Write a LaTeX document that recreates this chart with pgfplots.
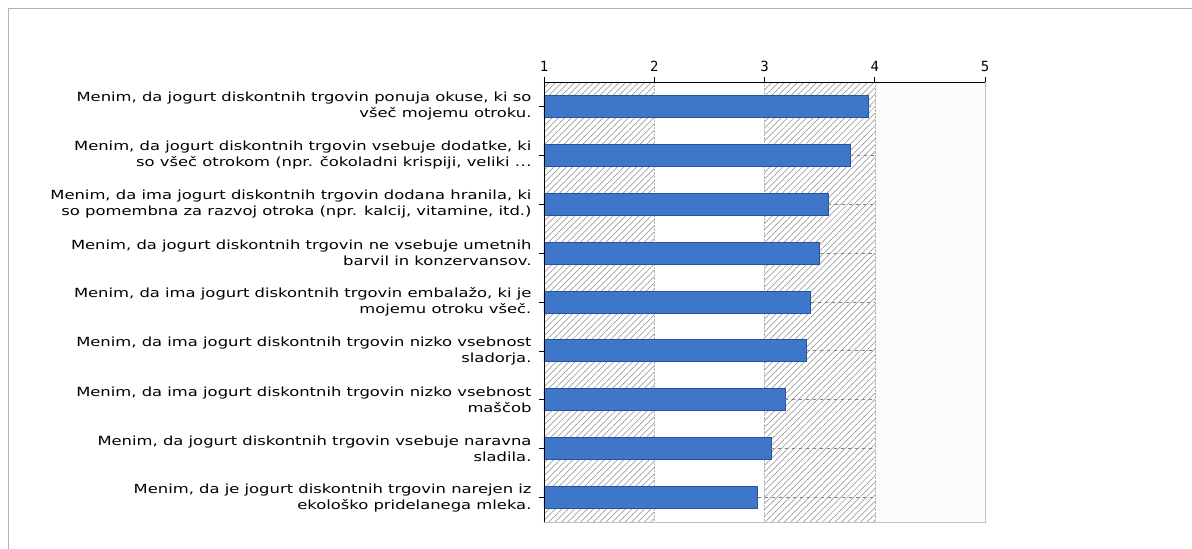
\documentclass[border=0pt]{standalone}
\usepackage{fontspec}
\setmainfont{DejaVu Sans}
\newfontfamily\labfont[FakeStretch=1.3]{DejaVu Sans}
\newfontfamily\tickfont{DejaVu Sans Mono}
\usepackage{pgfplots}
\pgfplotsset{compat=1.18}
\usetikzlibrary{patterns.meta}
\definecolor{barblue}{RGB}{62,118,202}
\definecolor{barline}{RGB}{40,82,155}
\pgfplotstableread{
y x e
8 3.94 0.06
7 3.78 0.22
6 3.58 0.42
5 3.50 0.50
4 3.42 0.58
3 3.38 0.62
2 3.19 0.81
1 3.06 0.94
0 2.94 1.06
}\datatable
\newcommand{\dotsx}{.\kern0.5pt.\kern0.5pt.}
\begin{document}
\begin{tikzpicture}
\useasboundingbox (0,0) rectangle (1192pt,549pt);
\draw[gray!60, line width=1pt] (8.5pt,0pt) -- (8.5pt,540.5pt) -- (1192pt,540.5pt);
\begin{axis}[
  at={(544pt,27pt)}, anchor=south west,
  width=441pt, height=440pt, scale only axis,
  xmin=1, xmax=5, ymin=-0.5, ymax=8.5,
  axis line style={gray!50},
  xtick={1,2,3,4,5},
  xtick pos=upper, xticklabel pos=upper,
  ytick={0,1,2,3,4,5,6,7,8}, ytick pos=left,
  tick align=outside,
  major tick length=5pt,
  tick style={black, line width=0.6pt},
  /pgf/number format/assume math mode=true,
  xticklabel style={font=\tickfont\fontsize{14}{16}\selectfont, yshift=2pt},
  yticklabel style={align=right, xshift=-4pt, font=\labfont\fontsize{12.6}{16}\selectfont},
  yticklabels={
    {Menim, da je jogurt diskontnih trgovin narejen iz\\ekološko pridelanega mleka.},
    {Menim, da jogurt diskontnih trgovin vsebuje naravna\\sladila.},
    {Menim, da ima jogurt diskontnih trgovin nizko vsebnost\\maščob},
    {Menim, da ima jogurt diskontnih trgovin nizko vsebnost\\sladorja.},
    {Menim, da ima jogurt diskontnih trgovin embalažo, ki je\\mojemu otroku všeč.},
    {Menim, da jogurt diskontnih trgovin ne vsebuje umetnih\\barvil in konzervansov.},
    {Menim, da ima jogurt diskontnih trgovin dodana hranila, ki\\so pomembna za razvoj otroka (npr. kalcij, vitamine, itd.)},
    {Menim, da jogurt diskontnih trgovin vsebuje dodatke, ki\\so všeč otrokom (npr. čokoladni krispiji, veliki \dotsx},
    {Menim, da jogurt diskontnih trgovin ponuja okuse, ki so\\všeč mojemu otroku.}
  },
]
\fill[pattern={Lines[angle=45,distance=4.5pt,line width=0.7pt]}, pattern color=gray!75] (axis cs:1,-0.5) rectangle (axis cs:2,8.5);
\fill[pattern={Lines[angle=45,distance=4.5pt,line width=0.7pt]}, pattern color=gray!75] (axis cs:3,-0.5) rectangle (axis cs:4,8.5);
\fill[gray!2] (axis cs:4,-0.5) rectangle (axis cs:5,8.5);
\draw[gray!60, densely dotted] (axis cs:2,-0.5) -- (axis cs:2,8.5);
\draw[gray!60, densely dotted] (axis cs:3,-0.5) -- (axis cs:3,8.5);
\draw[gray!60, densely dotted] (axis cs:4,-0.5) -- (axis cs:4,8.5);
\addplot[xbar, bar width=22pt, fill=barblue, draw=barline, line width=0.8pt,
  error bars/.cd, x dir=plus, x explicit,
  error mark=none,
  error bar style={gray, dash pattern=on 3pt off 4pt, line width=0.8pt}]
  table[x=x, y=y, x error=e] {\datatable};
\draw[black, line width=0.8pt] (axis description cs:0,0) -- (axis description cs:0,1) -- (axis description cs:1,1);
\end{axis}
\end{tikzpicture}
\end{document}
